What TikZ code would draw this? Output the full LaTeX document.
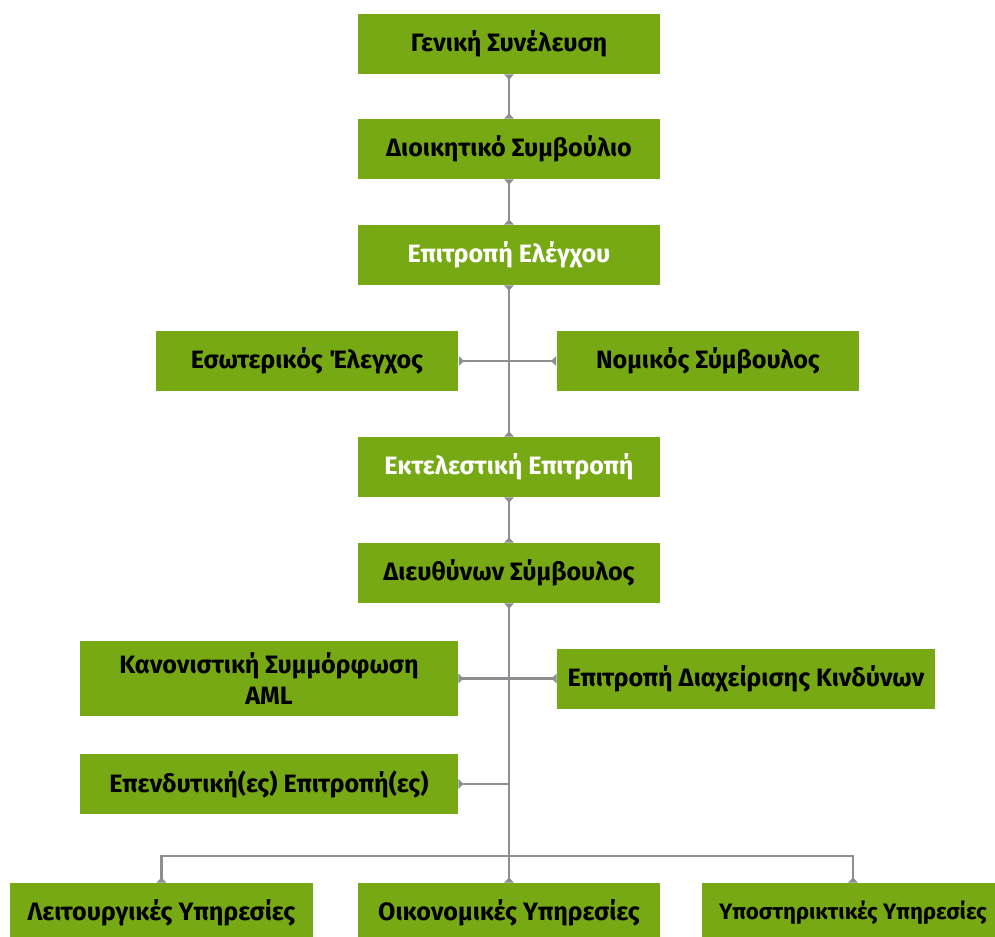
\documentclass[tikz,border=0pt]{standalone}
\usepackage{fontspec}
\setmainfont{Fira Sans}
\usetikzlibrary{arrows.meta}
\definecolor{boxgreen}{HTML}{77A914}
\definecolor{linegray}{HTML}{8E8E92}
\newcommand{\orgbox}[4][]{\node[fill=boxgreen,inner sep=0pt,minimum width=6.06cm,minimum height=1.2cm,align=center,font=\bfseries\fontsize{14.3}{17.5}\selectfont,#1] at (#2) (#3) {#4}}

\begin{document}
\begin{tikzpicture}[x=0.02cm,y=-0.02cm,
    >={Triangle[reversed,width=5.5pt,length=3pt]},
    link/.style={draw=linegray,line width=1.3pt,<->},
    halflink/.style={draw=linegray,line width=1.3pt,<-}]
  \useasboundingbox (0,0) rectangle (995,937);
  \orgbox{509,44}{gm}{Γενική Συνέλευση};
  \orgbox{509,149}{board}{Διοικητικό Συμβούλιο};
  \orgbox[text=white]{509,255}{audit}{Επιτροπή Ελέγχου};
  \orgbox{307,361}{internal}{Εσωτερικός Έλεγχος};
  \orgbox{708,361}{legal}{Νομικός Σύμβουλος};
  \orgbox[text=white]{509,467}{exec}{Εκτελεστική Επιτροπή};
  \orgbox{509,573}{ceo}{Διευθύνων Σύμβουλος};
  \orgbox[minimum width=7.56cm,minimum height=1.5cm]{269,678.5}{aml}{Κανονιστική Συμμόρφωση\\AML};
  \orgbox[minimum width=7.56cm]{746,679}{risk}{Επιτροπή Διαχείρισης Κινδύνων};
  \orgbox[minimum width=7.56cm]{269,784}{invest}{Επενδυτική(ες) Επιτροπή(ες)};
  \orgbox{161.5,913}{ops}{Λειτουργικές Υπηρεσίες};
  \orgbox{509,913}{fin}{Οικονομικές Υπηρεσίες};
  \orgbox[font=\bfseries\fontsize{12.7}{16}\selectfont]{853,913}{supp}{Υποστηρικτικές Υπηρεσίες};
  \coordinate (bus) at (509,856);
  \draw[link] (gm) -- (board);
  \draw[link] (board) -- (audit);
  \draw[link] (audit) -- (exec);
  \draw[link] (internal) -- (legal);
  \draw[link] (exec) -- (ceo);
  \draw[link] (aml.east) -- (aml.east -| risk.west);
  \draw[halflink] (invest.east) -- (invest.east -| ceo.south);
  \draw[link] (ceo) -- (fin);
  \draw[link] (ops.north) |- (bus) -| (supp.north);
\end{tikzpicture}
\end{document}
